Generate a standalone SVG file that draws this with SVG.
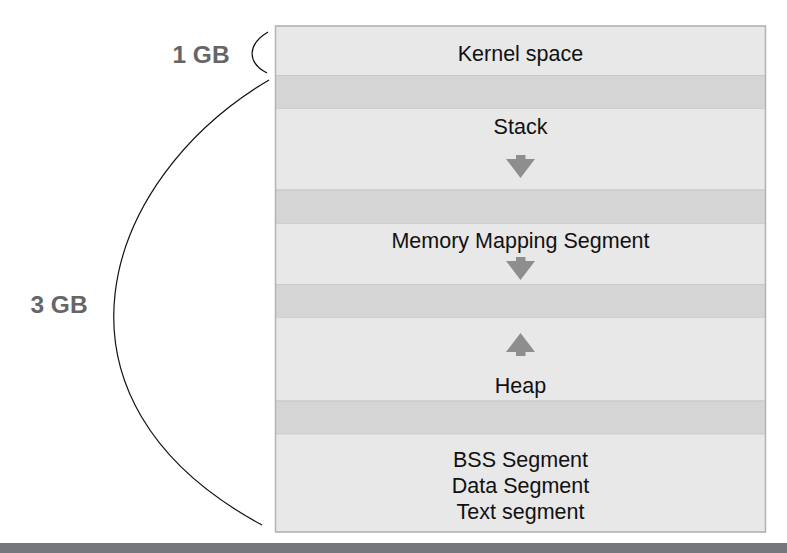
<svg xmlns="http://www.w3.org/2000/svg" width="787" height="553" viewBox="0 0 787 553">
<style>
.light{fill:#e8e8e8;stroke:#cfcfcf;stroke-width:1}
.dark{fill:#d5d5d5;stroke:#c8c8c8;stroke-width:1}
.t{font-family:"Liberation Sans",Arial,Helvetica,sans-serif;font-size:21.5px;fill:#111;text-anchor:middle}
.gb{font-family:"Liberation Sans",Arial,Helvetica,sans-serif;font-size:24.5px;font-weight:bold;fill:#666;text-anchor:middle}
.arr{fill:#8e8e8e}
.brace{fill:none;stroke:#111;stroke-width:1.2}
</style>
<rect x="0" y="0" width="787" height="553" fill="#fff"/>
<g id="kernel"><rect class="light" x="275.5" y="26" width="490" height="49.5"/><text class="t" x="520.5" y="61">Kernel space</text></g>
<g id="gap1"><rect class="dark" x="275.5" y="75.5" width="490" height="33"/></g>
<g id="stack"><rect class="light" x="275.5" y="108.5" width="490" height="81.5"/><text class="t" x="520.5" y="134">Stack</text>
<path class="arr" d="M516,155 H525.5 V159 H535 L520.5,178 L506,159 H516 Z"/></g>
<g id="gap2"><rect class="dark" x="275.5" y="190" width="490" height="33.5"/></g>
<g id="mmap"><rect class="light" x="275.5" y="223.5" width="490" height="61"/><text class="t" x="520.5" y="247.5">Memory Mapping Segment</text>
<path class="arr" d="M516,257 H525.5 V261 H535 L520.5,280 L506,261 H516 Z"/></g>
<g id="gap3"><rect class="dark" x="275.5" y="284.5" width="490" height="33"/></g>
<g id="heap"><rect class="light" x="275.5" y="317.5" width="490" height="83.5"/><text class="t" x="520.5" y="392.5">Heap</text>
<path class="arr" d="M516,356 H525.5 V352 H535 L520.5,333 L506,352 H516 Z"/></g>
<g id="gap4"><rect class="dark" x="275.5" y="401" width="490" height="33"/></g>
<g id="segments"><rect class="light" x="275.5" y="434" width="490" height="98"/>
<text class="t" x="520.5" y="467">BSS Segment</text>
<text class="t" x="520.5" y="493">Data Segment</text>
<text class="t" x="520.5" y="519">Text segment</text></g>
<rect x="275.5" y="26" width="490" height="506" fill="none" stroke="#b3b3b3" stroke-width="1.5"/>
<g id="labels">
<path class="brace" d="M268,32 C248,44 246,62 267,73"/>
<text class="gb" x="201" y="62.5">1 GB</text>
<path class="brace" d="M269,80 C100,180 30,400 262,525"/>
<text class="gb" x="59" y="312.5">3 GB</text>
</g>
<rect x="0" y="543" width="787" height="10" fill="#76777a"/>
</svg>
